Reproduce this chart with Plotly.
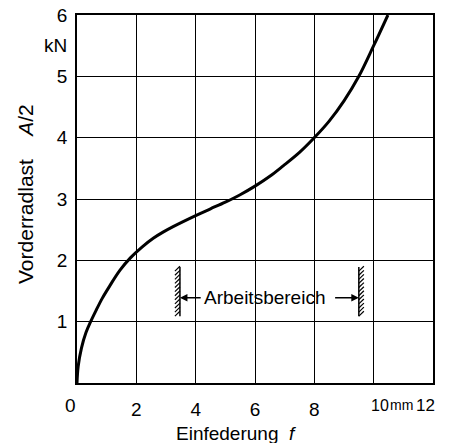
import plotly.graph_objects as go

# Data
f_mm = [0, 0.04, 0.15, 0.30, 0.46, 0.65, 0.85, 1.1, 1.45, 1.8, 2.2, 2.57, 2.9, 3.24,
        4.0, 4.5, 5.0, 5.5, 6.0, 6.5, 6.95, 7.5, 7.98, 8.5, 9.0, 9.5, 10.0, 10.48]
load_kN = [0, 0.27, 0.57, 0.82, 1.0, 1.19, 1.38, 1.58, 1.84, 2.04, 2.22, 2.36, 2.46, 2.55,
           2.73, 2.84, 2.95, 3.07, 3.21, 3.37, 3.54, 3.76, 3.99, 4.27, 4.6, 5.0, 5.5, 6.0]

x_ticks = [0, 2, 4, 6, 8, 10, 12]
x_ticktext = ["", "2", "4", "6", "8", "", ""]
y_ticks = [1, 2, 3, 4, 5, 6]
y_ticktext = ["1", "2", "3", "4", "5", "6"]

range_label = "Arbeitsbereich"
range_start = 3.47
range_end = 9.5
range_y = 1.39
wall_bottom = 1.09
wall_top = 1.89

FONT = "Liberation Sans"
FS = 19

fig = go.Figure()
fig.add_trace(go.Scatter(x=f_mm, y=load_kN, mode="lines",
                         line=dict(color="black", width=3, shape="spline", smoothing=1.0),
                         hoverinfo="skip", showlegend=False))

# walls (vertical lines)
for xw in (range_start, range_end):
    fig.add_shape(type="line", x0=xw, x1=xw, y0=wall_bottom, y1=wall_top,
                  xref="x", yref="y", line=dict(color="black", width=1.5))

# hatch marks
hx, hy = [], []
n = 12
step = (wall_top - wall_bottom) / n
dx = 0.17
dy = 0.08
for i in range(n):
    yb = wall_bottom + i * step
    hx += [range_start - dx, range_start, None]
    hy += [yb, yb + dy, None]
    hx += [range_end, range_end + dx, None]
    hy += [yb, yb + dy, None]
fig.add_trace(go.Scatter(x=hx, y=hy, mode="lines", line=dict(color="black", width=1.2),
                         hoverinfo="skip", showlegend=False))

annotations = []
annotations.append(dict(x=(range_start + range_end) / 2 - 0.15, y=range_y, xref="x", yref="y",
                        text=range_label, showarrow=False,
                        font=dict(family=FONT, size=FS, color="black")))
annotations.append(dict(x=range_start, y=range_y, ax=range_start + 0.75, ay=range_y,
                        xref="x", yref="y", axref="x", ayref="y", text="",
                        showarrow=True, arrowhead=2, arrowsize=1, arrowwidth=1.5,
                        arrowcolor="black"))
annotations.append(dict(x=range_end, y=range_y, ax=range_end - 0.85, ay=range_y,
                        xref="x", yref="y", axref="x", ayref="y", text="",
                        showarrow=True, arrowhead=2, arrowsize=1, arrowwidth=1.5,
                        arrowcolor="black"))

tick_y_paper = (383 - 405) / 368
annotations.append(dict(x=0, y=tick_y_paper, xref="x", yref="paper", text="0",
                        showarrow=False, xanchor="center", yanchor="middle", xshift=-7,
                        font=dict(family=FONT, size=FS, color="black")))
annotations.append(dict(x=10, y=tick_y_paper, xref="x", yref="paper", text="10",
                        showarrow=False, xanchor="center", yanchor="middle", xshift=6,
                        borderpad=0,
                        font=dict(family=FONT, size=16, color="black")))
annotations.append(dict(x=10, y=tick_y_paper, xref="x", yref="paper", text="mm",
                        showarrow=False, xanchor="center", yanchor="middle", xshift=28,
                        borderpad=0,
                        font=dict(family=FONT, size=14, color="black")))
annotations.append(dict(x=12, y=tick_y_paper, xref="x", yref="paper", text="12",
                        showarrow=False, xanchor="right", yanchor="middle", xshift=3,
                        borderpad=0,
                        font=dict(family=FONT, size=17, color="black")))
annotations.append(dict(x=5.5, y=(383 - 433) / 368, xref="x", yref="paper",
                        text="Einfederung\u00a0\u00a0<i>f</i>",
                        showarrow=False, xanchor="center", yanchor="middle", xshift=-4,
                        font=dict(family=FONT, size=FS, color="black")))
annotations.append(dict(x=(25 - 77) / 356, y=(383 - 194) / 368, xref="paper", yref="paper",
                        text="Vorderradlast\u00a0\u00a0\u00a0\u00a0<i>A</i>/2", textangle=-90,
                        showarrow=False, xanchor="center", yanchor="middle",
                        font=dict(family=FONT, size=21, color="black")))
annotations.append(dict(x=(69 - 77) / 356, y=5.5, xref="paper", yref="y", text="kN",
                        showarrow=False, xanchor="right", yanchor="middle",
                        font=dict(family=FONT, size=FS, color="black")))

fig.update_layout(
    width=452, height=443,
    margin=dict(l=77, r=19, t=15, b=60),
    paper_bgcolor="white", plot_bgcolor="white",
    font=dict(family=FONT, size=FS, color="black"),
    annotations=annotations,
    showlegend=False,
)
fig.update_xaxes(range=[0, 12], tickvals=x_ticks, ticktext=x_ticktext,
                 showgrid=True, gridcolor="black", gridwidth=1.3,
                 showline=True, linecolor="black", linewidth=1.5, mirror=True,
                 zeroline=False, ticks="outside", ticklen=8, tickcolor="rgba(0,0,0,0)",
                 fixedrange=True, automargin=False)
fig.update_yaxes(range=[0, 6], tickvals=y_ticks, ticktext=y_ticktext,
                 showgrid=True, gridcolor="black", gridwidth=1.3,
                 showline=True, linecolor="black", linewidth=1.5, mirror=True,
                 zeroline=False, ticks="outside", ticklen=4, tickcolor="rgba(0,0,0,0)",
                 fixedrange=True, automargin=False)

fig.write_html("out.html")
